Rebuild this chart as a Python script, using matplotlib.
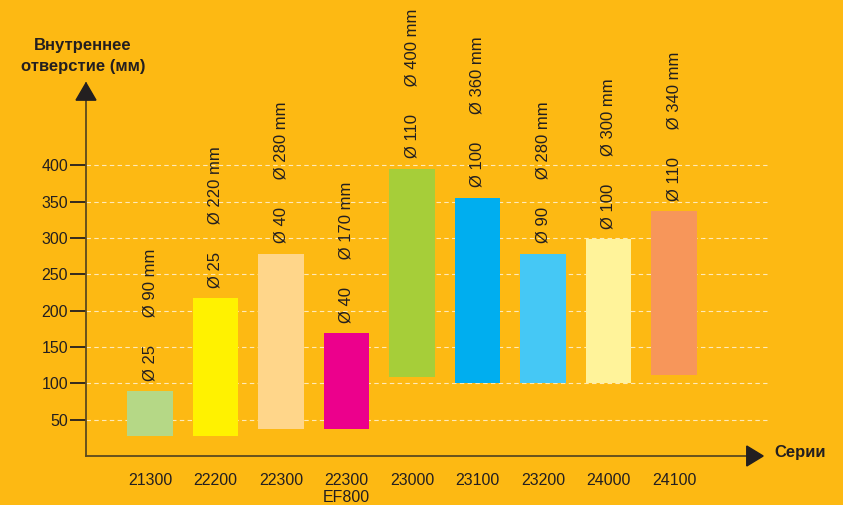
import matplotlib.pyplot as plt
from matplotlib.patches import Polygon

plt.rcParams['font.family'] = ['Liberation Sans', 'DejaVu Sans']

# data
series = ['21300', '22200', '22300', '22300\nEF800', '23000', '23100', '23200', '24000', '24100']
# label values (bore diameter, mm)
d_min = [25, 25, 40, 40, 110, 100, 90, 100, 110]
d_max = [90, 220, 280, 170, 400, 360, 280, 300, 340]
# bar extents as drawn in the picture
bar_lo = [28, 28, 37, 37, 108, 100, 100, 100, 112]
bar_hi = [89, 217, 278, 169, 395, 355, 278, 298, 337]
colors = ['#B5D886', '#FFF200', '#FFD68A', '#EC008C', '#A6CE39',
          '#00AEEF', '#45C8F5', '#FFF39A', '#F7965A']
yticks = [50, 100, 150, 200, 250, 300, 350, 400]

bg = '#FDB913'
ink = '#231F20'
axcol = '#5C4A1E'

fig = plt.figure(figsize=(8.43, 5.05), dpi=100, facecolor=bg)
ax = fig.add_axes([86/843, 49/505, 684/843, 373/505])
ax.set_facecolor('none')

x = list(range(len(series)))
heights = [hi - lo for lo, hi in zip(bar_lo, bar_hi)]
ax.bar(x, heights, bottom=bar_lo, width=0.7, color=colors, zorder=3)

for xi, top, lo, hi in zip(x, bar_hi, d_min, d_max):
    ax.annotate('Ø %d      Ø %d mm' % (lo, hi), (xi, top), xytext=(0, 7.5),
                textcoords='offset points', rotation=90, ha='center', va='bottom',
                fontsize=12, color=ink, annotation_clip=False)

ax.set_xlim(-0.977, 9.466)
ax.set_ylim(0, 513)

# grid
ax.hlines(yticks, -0.977, 9.42, colors='white', linestyles=(0, (4, 3)),
          linewidth=0.8, alpha=0.7, zorder=1)

for s in ['top', 'right']:
    ax.spines[s].set_visible(False)
for s in ['left', 'bottom']:
    ax.spines[s].set_color(axcol)
    ax.spines[s].set_linewidth(1.3)
ax.spines['bottom'].set_bounds(-0.977, 9.2)

ax.set_yticks(yticks)
ax.set_yticklabels([str(v) for v in yticks], fontsize=11.5, color=ink)
ax.tick_params(axis='y', direction='out', length=11.5, width=1.3, color=ink, pad=1.5)
ax.set_xticks(x)
ax.set_xticklabels(series, fontsize=11.5, color=ink)
ax.tick_params(axis='x', length=0, pad=12)

# arrow heads
ax.add_patch(Polygon([[0, 1.0], [-0.0146, 0.954], [0.0146, 0.954]], closed=True,
                     transform=ax.transAxes, color=ink, clip_on=False, zorder=5))
ax.add_patch(Polygon([[0.990, 0], [0.966, 0.0268], [0.966, -0.0268]], closed=True,
                     transform=ax.transAxes, color=ink, clip_on=False, zorder=5))

fig.text(83/843, 1 - 56/505, 'Внутреннее\nотверстие (мм)', ha='center', va='center',
         fontsize=12, fontweight='bold', color=ink, linespacing=1.45)
fig.text(774/843, 1 - 453/505, 'Серии', ha='left', va='center',
         fontsize=12, fontweight='bold', color=ink)

fig.savefig('out.png', dpi=100, facecolor=bg)
